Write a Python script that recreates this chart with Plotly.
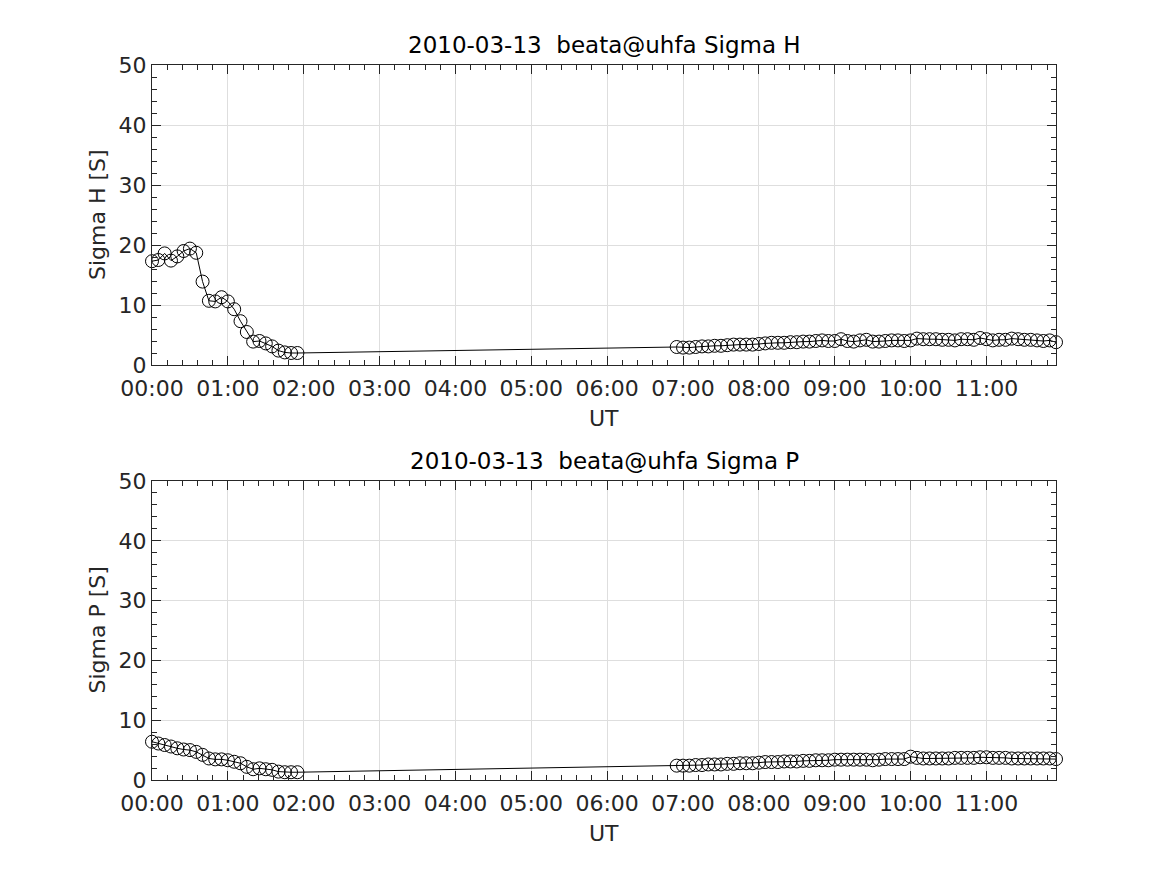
import plotly.graph_objects as go

DAY = "2010-03-13 "

# times (HH:MM) of the samples
times_a = ["00:00", "00:05", "00:10", "00:15", "00:20", "00:25", "00:30", "00:35",
           "00:40", "00:45", "00:50", "00:55", "01:00", "01:05", "01:10", "01:15",
           "01:20", "01:25", "01:30", "01:35", "01:40", "01:45", "01:50", "01:55"]
times_b = ["06:55", "07:00", "07:05", "07:10", "07:15", "07:20", "07:25", "07:30",
           "07:35", "07:40", "07:45", "07:50", "07:55", "08:00", "08:05", "08:10",
           "08:15", "08:20", "08:25", "08:30", "08:35", "08:40", "08:45", "08:50",
           "08:55", "09:00", "09:05", "09:10", "09:15", "09:20", "09:25", "09:30",
           "09:35", "09:40", "09:45", "09:50", "09:55", "10:00", "10:05", "10:10",
           "10:15", "10:20", "10:25", "10:30", "10:35", "10:40", "10:45", "10:50",
           "10:55", "11:00", "11:05", "11:10", "11:15", "11:20", "11:25", "11:30",
           "11:35", "11:40", "11:45", "11:50", "11:55"]

sigma_h_a = [17.3, 17.5, 18.6, 17.4, 18.1, 19.0, 19.4, 18.7, 13.9, 10.7, 10.6, 11.3,
             10.6, 9.3, 7.3, 5.5, 3.9, 4.0, 3.6, 3.1, 2.4, 2.1, 2.0, 2.0]
sigma_h_b = [3.0, 2.9, 2.9, 3.0, 3.1, 3.1, 3.2, 3.2, 3.3, 3.4, 3.4, 3.4, 3.4, 3.5,
             3.6, 3.7, 3.7, 3.7, 3.8, 3.8, 3.9, 3.9, 4.0, 4.1, 4.0, 4.0, 4.3, 4.0,
             3.9, 4.1, 4.2, 3.9, 3.9, 4.0, 4.1, 4.1, 4.0, 4.1, 4.4, 4.3, 4.3, 4.3,
             4.2, 4.2, 4.1, 4.3, 4.3, 4.2, 4.5, 4.3, 4.1, 4.2, 4.2, 4.4, 4.3, 4.2,
             4.2, 4.1, 4.0, 4.1, 3.8]

sigma_p_a = [6.4, 6.1, 5.85, 5.6, 5.3, 5.1, 5.0, 4.7, 4.2, 3.6, 3.45, 3.45, 3.3,
             3.05, 2.8, 2.2, 1.8, 1.95, 1.8, 1.7, 1.4, 1.3, 1.3, 1.3]
sigma_p_b = [2.4, 2.4, 2.4, 2.5, 2.5, 2.6, 2.6, 2.6, 2.7, 2.7, 2.8, 2.8, 2.8, 2.9,
             3.0, 3.0, 3.0, 3.1, 3.1, 3.1, 3.2, 3.2, 3.3, 3.3, 3.3, 3.4, 3.4, 3.4,
             3.4, 3.4, 3.4, 3.3, 3.4, 3.5, 3.5, 3.5, 3.5, 3.9, 3.7, 3.6, 3.6, 3.6,
             3.6, 3.6, 3.7, 3.7, 3.7, 3.7, 3.8, 3.8, 3.7, 3.7, 3.7, 3.6, 3.6, 3.6,
             3.6, 3.6, 3.6, 3.6, 3.5]

assert len(times_a) == len(sigma_h_a) == len(sigma_p_a)
assert len(times_b) == len(sigma_h_b) == len(sigma_p_b)

titles = ["2010-03-13  beata@uhfa Sigma H", "2010-03-13  beata@uhfa Sigma P"]
ylabels = ["Sigma H [S]", "Sigma P [S]"]
xlabel = "UT"

x_all = [DAY + t for t in times_a + times_b]
series = [sigma_h_a + sigma_h_b, sigma_p_a + sigma_p_b]

FONT = "DejaVu Sans"
TXT = "#262626"
OFF = 8  # page body margin in the browser
W, H = 1167 - OFF, 875 - OFF
# pixel boxes (page coordinates) of the two axes: (left, top, right, bottom)
boxes = [(152, 65, 1056, 365), (152, 481, 1056, 780)]

fig = go.Figure()
layout = dict(template="none", width=W, height=H, paper_bgcolor="white",
              plot_bgcolor="white",
              margin=dict(l=0, r=0, t=0, b=0, pad=0, autoexpand=False),
              showlegend=False,
              font=dict(family=FONT, size=22, color=TXT))
annotations = []
for i, (vals, box) in enumerate(zip(series, boxes)):
    l, t, r, b = [v - OFF for v in box]
    xa = "x" if i == 0 else "x2"
    ya = "y" if i == 0 else "y2"
    fig.add_trace(go.Scatter(
        x=x_all, y=vals, mode="lines+markers", xaxis=xa, yaxis=ya,
        line=dict(color="black", width=1),
        marker=dict(symbol="circle-open", size=13, color="black",
                    line=dict(width=1, color="black")),
        cliponaxis=False))
    common = dict(showline=True, linecolor=TXT, linewidth=1, mirror="ticks",
                  ticks="inside", ticklen=9, tickcolor=TXT, tickwidth=1,
                  showgrid=True, gridcolor="#dedede", gridwidth=1, zeroline=False,
                  automargin=False,
                  tickfont=dict(family=FONT, size=22, color=TXT))
    layout["xaxis" + ("" if i == 0 else "2")] = dict(
        common, type="date", domain=[l / W, r / W],
        anchor=ya, range=[DAY + "00:00", DAY + "11:55"],
        tick0=DAY + "00:00", dtick=3600000, tickformat="%H:%M",
        ticklabelstandoff=4,
        minor=dict(dtick=720000, ticks="inside", ticklen=5, tickcolor=TXT,
                   showgrid=False))
    layout["yaxis" + ("" if i == 0 else "2")] = dict(
        common, domain=[1 - b / H, 1 - t / H], anchor=xa,
        range=[0, 50], dtick=10, tick0=0,
        minor=dict(dtick=2, ticks="inside", ticklen=5, tickcolor=TXT,
                   showgrid=False))
    cx = (l + r) / 2 / W
    annotations.append(dict(text=titles[i], x=cx, y=1 - (t - 20) / H, xref="paper",
                            yref="paper", xanchor="center", yanchor="middle",
                            showarrow=False, font=dict(family=FONT, size=23, color="black")))
    annotations.append(dict(text=xlabel, x=cx, y=1 - (b + 53) / H, xref="paper",
                            yref="paper", xanchor="center", yanchor="middle",
                            showarrow=False, font=dict(family=FONT, size=22, color=TXT)))
    annotations.append(dict(text=ylabels[i], x=(l - 55) / W, y=1 - (t + b) / 2 / H,
                            xref="paper", yref="paper", xanchor="center", yanchor="middle",
                            textangle=-90, showarrow=False,
                            font=dict(family=FONT, size=22, color=TXT)))
layout["annotations"] = annotations
fig.update_layout(**layout)
fig.write_html("out.html")
